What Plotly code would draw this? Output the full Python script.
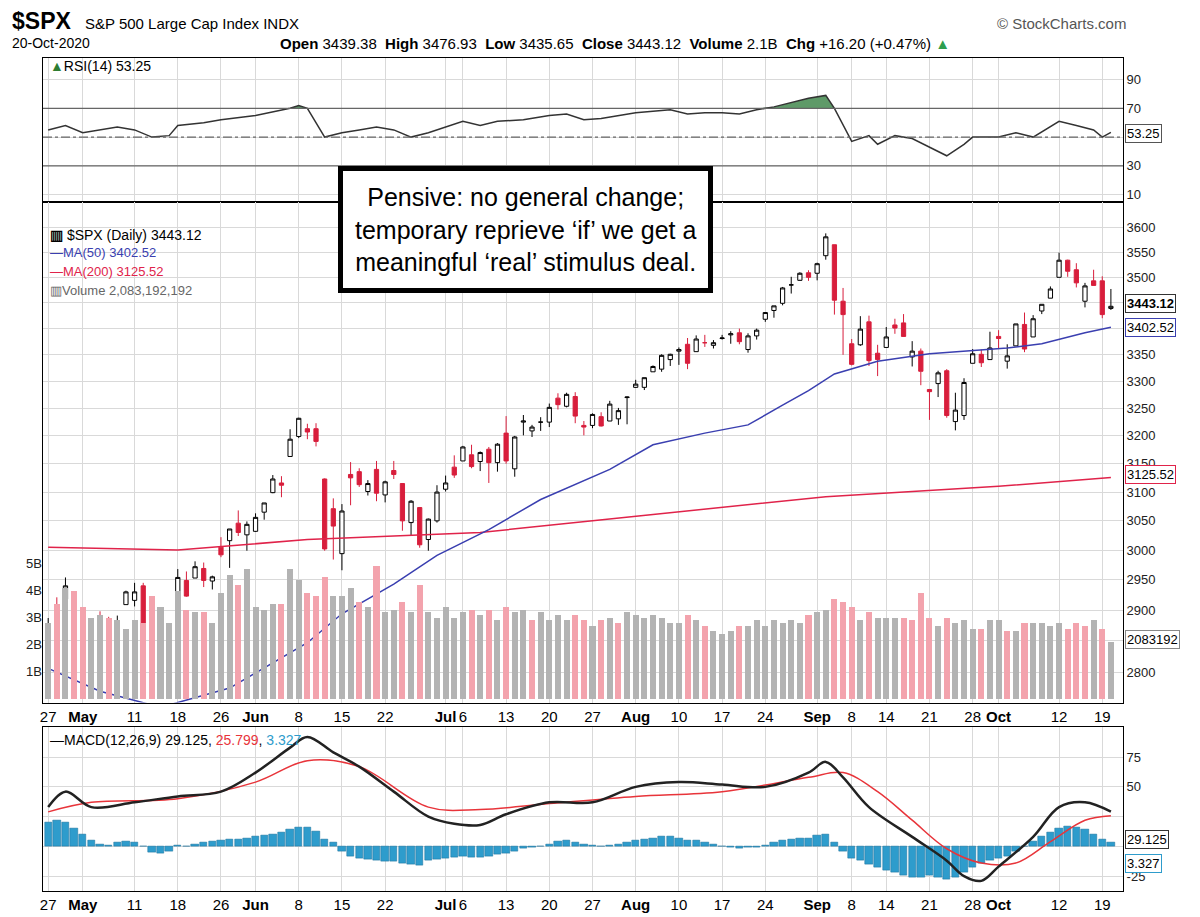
import plotly.graph_objects as go

# trading-day index 0 = 27-Apr-2020 ... 123 = 20-Oct-2020
opens = [2854, 2909, 2918, 2930, 2869, 2815, 2869, 2884, 2879, 2909,
         2916, 2940, 2865, 2794, 2829, 2913, 2949, 2953, 2969, 2948,
         3005, 3016, 3046, 3026, 3032, 3065, 3099, 3116, 3163,
         3199, 3213, 3213, 3123, 3071, 2994, 3131, 3136, 3101, 3140,
         3095, 3138, 3115, 3047, 3073, 3018, 3050, 3105, 3144,
         3155, 3166, 3154, 3176, 3152, 3205, 3141, 3225, 3209, 3225,
         3225, 3269, 3254, 3272, 3219, 3219, 3235, 3227, 3231, 3270,
         3289, 3289, 3318, 3323, 3341, 3357, 3370, 3356, 3373, 3368,
         3381, 3388, 3392, 3360, 3386, 3418, 3435, 3449, 3485, 3494,
         3509, 3508, 3543, 3565, 3453, 3371, 3369, 3413, 3353,
         3364, 3407, 3411, 3346, 3357, 3285, 3296, 3320, 3226, 3237,
         3334, 3351, 3341, 3385, 3338, 3367, 3408, 3384, 3434, 3459,
         3500, 3534, 3515, 3453, 3493, 3493, 3439]
highs = [2887, 2921, 2954, 2930, 2869, 2844, 2898, 2889, 2891, 2932,
         2945, 2945, 2874, 2853, 2865, 2968, 2964, 2981, 2979, 2957,
         3022, 3036, 3068, 3049, 3063, 3081, 3130, 3128, 3212,
         3233, 3222, 3223, 3124, 3089, 3079, 3153, 3142, 3121, 3155,
         3120, 3155, 3115, 3086, 3074, 3054, 3112, 3129, 3165,
         3182, 3184, 3172, 3180, 3187, 3236, 3200, 3238, 3220, 3234,
         3259, 3278, 3279, 3280, 3227, 3241, 3243, 3264, 3251, 3272,
         3303, 3307, 3330, 3351, 3352, 3364, 3382, 3387, 3388, 3378,
         3388, 3395, 3400, 3391, 3400, 3432, 3444, 3481, 3501, 3510,
         3514, 3529, 3588, 3565, 3479, 3380, 3424, 3425, 3369,
         3403, 3419, 3428, 3376, 3362, 3286, 3320, 3323, 3279, 3306,
         3361, 3360, 3394, 3397, 3370, 3409, 3431, 3426, 3447, 3482,
         3549, 3535, 3528, 3489, 3515, 3502, 3477]
lows = [2852, 2860, 2912, 2892, 2821, 2797, 2852, 2845, 2873, 2909,
        2906, 2870, 2793, 2766, 2817, 2913, 2922, 2953, 2938, 2934,
        2988, 2970, 3024, 2999, 3031, 3052, 3098, 3091, 3163,
        3196, 3194, 3181, 2999, 2984, 2966, 3077, 3109, 3094, 3084,
        3082, 3123, 3033, 3025, 3004, 2999, 3047, 3101, 3125,
        3155, 3142, 3137, 3116, 3136, 3150, 3127, 3201, 3198, 3209,
        3216, 3248, 3252, 3223, 3201, 3214, 3217, 3227, 3220, 3221,
        3288, 3284, 3318, 3318, 3329, 3331, 3323, 3356, 3365, 3362,
        3379, 3371, 3370, 3354, 3379, 3413, 3421, 3445, 3468, 3495,
        3493, 3494, 3535, 3427, 3350, 3330, 3367, 3329, 3310,
        3364, 3390, 3385, 3328, 3293, 3229, 3271, 3233, 3210, 3229,
        3334, 3327, 3341, 3361, 3324, 3367, 3355, 3384, 3428, 3459,
        3500, 3501, 3480, 3441, 3484, 3420, 3436]
closes = [2878, 2863, 2940, 2912, 2831, 2843, 2868, 2848, 2881, 2930,
          2930, 2870, 2820, 2853, 2864, 2954, 2923, 2972, 2949, 2955,
          2992, 3036, 3030, 3044, 3056, 3081, 3123, 3112, 3194,
          3232, 3207, 3190, 3002, 3041, 3067, 3125, 3113, 3115, 3098,
          3118, 3131, 3050, 3084, 3009, 3053, 3100, 3116, 3130,
          3180, 3145, 3170, 3152, 3185, 3155, 3198, 3227, 3216, 3225,
          3252, 3257, 3276, 3236, 3216, 3239, 3218, 3258, 3246, 3271,
          3295, 3307, 3328, 3349, 3351, 3360, 3334, 3380, 3373, 3373,
          3382, 3390, 3375, 3386, 3397, 3431, 3444, 3479, 3485, 3508,
          3500, 3527, 3581, 3455, 3427, 3332, 3399, 3339, 3341,
          3384, 3401, 3385, 3357, 3319, 3281, 3316, 3237, 3247, 3298,
          3352, 3335, 3363, 3381, 3348, 3409, 3361, 3419, 3447, 3477,
          3534, 3512, 3489, 3483, 3484, 3427, 3443.12]
volume_b = [2.8, 3.5, 4.1, 4.0, 3.4, 3.0, 3.1, 3.0, 2.9, 2.6,
            2.9, 2.8, 3.8, 3.4, 2.8, 4.0, 3.3, 3.2, 3.2, 2.8,
            3.9, 4.6, 4.2, 4.8, 3.4, 3.3, 3.5, 3.5, 4.8,
            4.4, 3.9, 3.8, 4.5, 3.8, 3.8, 4.1, 3.6, 3.4, 4.9,
            3.2, 3.3, 3.6, 3.2, 4.2, 3.2, 3.0, 3.4, 3.0,
            3.2, 3.3, 3.1, 3.3, 2.9, 3.4, 3.2, 3.3, 2.9, 3.2,
            2.9, 3.1, 2.9, 3.1, 2.9, 2.7, 2.9, 3.0, 2.8, 3.2,
            3.1, 3.0, 3.1, 3.0, 2.8, 2.8, 3.1, 2.9, 2.7, 2.5,
            2.4, 2.5, 2.7, 2.7, 2.9, 2.7, 2.9, 2.8, 2.9, 2.8,
            3.1, 3.2, 3.3, 3.7, 3.6, 3.4, 2.9, 3.2, 3.0,
            3.0, 3.0, 3.0, 2.9, 3.9, 3.0, 2.7, 3.0, 2.8, 2.9,
            2.6, 2.6, 2.9, 2.9, 2.5, 2.5, 2.8, 2.8, 2.8, 2.7,
            2.8, 2.6, 2.8, 2.7, 2.9, 2.6, 2.1]

ma50_x = [0, 6, 13, 21, 30, 34, 40, 45, 51, 57, 65, 70, 76, 81, 85, 88, 91, 96, 102, 106, 111, 115, 120, 123]
ma50_y = [2806, 2770, 2745, 2775, 2847, 2894, 2943, 2991, 3035, 3087, 3140, 3184, 3205, 3220, 3256, 3283, 3314, 3338, 3352, 3357, 3363, 3371, 3392, 3402.52]
ma200_x = [0, 15, 30, 50, 70, 90, 110, 123]
ma200_y = [3005, 3000, 3018, 3030, 3061, 3092, 3110, 3125.52]

rsi_x = [0, 2, 4, 6, 8, 10, 12, 14, 15, 18, 20, 24, 28, 29, 30, 32, 34, 36, 38, 40, 42, 44, 46, 48, 50, 52, 55,
         58, 60, 62, 64, 66, 68, 72, 74, 76, 78, 80, 82, 84, 86, 88, 90, 91, 93, 95, 96, 98, 100, 102, 104, 106,
         107, 110, 112, 114, 116, 117, 119, 121, 122, 123]
rsi_y = [55, 58, 53, 55, 57, 55, 50, 51, 58, 60, 62, 65, 70, 72, 70, 50, 53, 55, 57, 55, 50, 53, 57, 61, 58, 61, 62,
         65, 66, 62, 63, 65, 67, 69, 66, 67, 67, 66, 69, 71, 74, 77, 79, 70, 47, 51, 45, 51, 49, 43, 37, 45,
         50, 50, 53, 50, 57, 61, 58, 55, 50, 53.25]

macd_x = [0, 2, 5, 10, 15, 20, 24, 28, 30, 33, 36, 40, 44, 47, 50, 53, 58, 63, 68, 73, 78, 83, 88, 90, 92, 95,
          100, 104, 106, 108, 110, 114, 117, 120, 123]
macd_y = [33, 46, 33, 37, 42, 46, 62, 83, 92, 79, 67, 46, 25, 19, 18, 27, 37, 37, 50, 54, 52, 50, 62, 71, 58, 33,
          8, -12, -25, -29, -17, 8, 33, 37, 29.125]
signal_x = [0, 5, 15, 24, 30, 36, 44, 50, 58, 68, 78, 88, 92, 96, 100, 104, 108, 112, 116, 120, 123]
signal_y = [29, 37, 40, 54, 72, 67, 33, 31, 36, 42, 46, 58, 62, 46, 22, -2, -14, -14, 4, 22, 25.8]
hist = [20, 22, 20, 15, 10, 5, 2, 1, 3, 4, 3, 0, -5, -6, -4, 1, 0, 2, 3, 4, 5, 6, 6, 7,
        8, 9, 10, 12, 14, 16, 16, 13, 6, 3, -4, -8, -10, -11, -12, -13, -13, -14, -15, -16,
        -12, -11, -10, -9, -8, -9, -9, -8, -7, -6, -4, -2, -1, 0, 2, 4, 5, 3, 2, 1, 0, 1, 2, 3,
        5, 6, 7, 8, 8, 7, 5, 5, 3, 2, 0, -1, -2, -1, -1, 1, 3, 5, 6, 7, 7, 9, 10, 3, -4,
        -10, -12, -15, -18, -20, -22, -24, -26, -26, -24, -26, -28, -26, -22, -18, -14, -12, -10, -8,
        -4, 0, 4, 8, 12, 15, 17, 16, 14, 10, 6, 3.327]

tick_idx = [0, 4, 10, 15, 20, 24, 29, 34, 39, 46, 48, 53, 58, 63, 68, 73, 78, 83, 89, 93, 97, 102, 107, 110, 117, 122]
tick_txt = ["27", "<b>May</b>", "11", "18", "26", "<b>Jun</b>", "8", "15", "22", "<b>Jul</b>", "6", "13", "20", "27",
            "<b>Aug</b>", "10", "17", "24", "<b>Sep</b>", "8", "14", "21", "28", "<b>Oct</b>", "12", "19"]

days = list(range(len(closes)))
FONT = "Liberation Sans, Arial, sans-serif"
W, H, L, R, T, B = 1200, 917, 35, 85, 50, 27


def px(x):
    return (x - L) / (W - L - R)


def py(y):
    return (H - B - y) / (H - T - B)


vol_col = ["#f3a3ad" if (i > 0 and closes[i] < closes[i - 1]) else "#b3b3b3" for i in days]

fig = go.Figure()

# RSI panel
fig.add_trace(go.Scatter(x=rsi_x, y=[70] * len(rsi_x), mode="lines", line=dict(width=0),
                         xaxis="x", yaxis="y", hoverinfo="skip"))
fig.add_trace(go.Scatter(x=rsi_x, y=[max(v, 70) for v in rsi_y], mode="lines", line=dict(width=0),
                         fill="tonexty", fillcolor="#5e9a68", xaxis="x", yaxis="y", hoverinfo="skip"))
fig.add_trace(go.Scatter(x=rsi_x, y=rsi_y, mode="lines", line=dict(color="#333", width=1.5),
                         xaxis="x", yaxis="y"))

# volume behind price
fig.add_trace(go.Bar(x=days, y=volume_b, marker_color=vol_col, marker_line_width=0, width=0.7,
                     xaxis="x2", yaxis="y3"))
fig.add_trace(go.Scatter(x=ma200_x, y=ma200_y, mode="lines", line=dict(color="#e0234a", width=1.5),
                         xaxis="x2", yaxis="y2"))
fig.add_trace(go.Scatter(x=ma50_x, y=ma50_y, mode="lines", line=dict(color="#3a3fb0", width=1.5),
                         xaxis="x2", yaxis="y2"))
fig.add_trace(go.Candlestick(x=days, open=opens, high=highs, low=lows, close=closes,
                             increasing=dict(fillcolor="white", line=dict(color="black", width=1)),
                             decreasing=dict(fillcolor="#d81e3c", line=dict(color="#d81e3c", width=1)),
                             whiskerwidth=0, xaxis="x2", yaxis="y2"))

# MACD panel
fig.add_trace(go.Bar(x=days, y=hist, marker_color="#2e9ccc", marker_line_color="#1b6f99",
                     marker_line_width=0.5, width=0.85, xaxis="x3", yaxis="y4"))
fig.add_trace(go.Scatter(x=signal_x, y=signal_y, mode="lines", line=dict(color="#e8343a", width=1.5),
                         line_shape="spline", xaxis="x3", yaxis="y4"))
fig.add_trace(go.Scatter(x=macd_x, y=macd_y, mode="lines", line=dict(color="#222", width=2.5),
                         line_shape="spline", xaxis="x3", yaxis="y4"))

xr = [-0.6, 124.4]
xcommon = dict(range=xr, showline=True, linecolor="black", mirror=True, gridcolor="#d9d9d9",
               tickvals=tick_idx, ticktext=tick_txt, ticks="", zeroline=False,
               tickfont=dict(family=FONT, size=15, color="black"))
ycommon = dict(showline=True, linecolor="black", mirror=True, gridcolor="#d9d9d9", side="right",
               ticks="", zeroline=False, tickfont=dict(family=FONT, size=13, color="#222"))

price_ticks = list(range(2800, 3601, 50))
fig.update_layout(
    width=W, height=H, margin=dict(l=L, r=R, t=T, b=B), showlegend=False,
    paper_bgcolor="white", plot_bgcolor="white", bargap=0,
    xaxis=dict(xcommon, domain=[0, 1], anchor="y", showticklabels=False),
    yaxis=dict(ycommon, domain=[py(195), 1], range=[5, 105], tickvals=[10, 30, 50, 70, 90],
               ticktext=["10", "30", "", "70", "90"]),
    xaxis2=dict(xcommon, domain=[0, 1], anchor="y2", rangeslider=dict(visible=False)),
    yaxis2=dict(ycommon, domain=[py(700), py(195)], type="log", range=[3.4397, 3.5626],
                tickvals=price_ticks, ticktext=[str(v) for v in price_ticks]),
    yaxis3=dict(overlaying="y2", side="left", range=[-0.15, 18.4], showgrid=False, zeroline=False,
                tickvals=[1, 2, 3, 4, 5], ticktext=["1B", "2B", "3B", "4B", "5B"], ticks="",
                tickfont=dict(family=FONT, size=13, color="#222")),
    xaxis3=dict(xcommon, domain=[0, 1], anchor="y4"),
    yaxis4=dict(ycommon, domain=[0, py(725)], range=[-37.5, 100], tickvals=[-25, 0, 25, 50, 75],
                ticktext=["-25", "", "", "50", "75"]),
)

# reference lines in RSI panel
for lvl, dash in [(70, "solid"), (30, "solid"), (50, "dashdot")]:
    fig.add_shape(type="line", xref="x", yref="y", x0=xr[0], x1=xr[1], y0=lvl, y1=lvl,
                  line=dict(color="#666", width=1.3, dash=dash))

ann = []


def text(x, y, s, size=14, color="black", xanchor="left", **kw):
    ann.append(dict(x=px(x), y=py(y), xref="paper", yref="paper", text=s, showarrow=False,
                    xanchor=xanchor, yanchor="middle", font=dict(family=FONT, size=size, color=color), **kw))


text(2, 13, "<b>$SPX</b>", size=23)
text(75, 15, "S&P 500 Large Cap Index INDX", size=15)
text(2, 35, "20-Oct-2020", size=14)
text(270, 35, "<b>Open</b> 3439.38  <b>High</b> 3476.93  <b>Low</b> 3435.65  <b>Close</b> 3443.12  "
     "<b>Volume</b> 2.1B  <b>Chg</b> +16.20 (+0.47%) <span style='color:#2e9e4e'>▲</span>", size=15)
text(1120, 15, "© StockCharts.com", size=15, color="#555", xanchor="right")
text(40, 58, "<span style='color:#2e7d32'>▲</span>RSI(14) 53.25", size=14)
text(40, 228, "<b>▥</b> $SPX (Daily) 3443.12", size=14)
text(40, 246, "<span style='color:#3a3fb0'>—MA(50) 3402.52</span>", size=13)
text(40, 265, "<span style='color:#e0234a'>—MA(200) 3125.52</span>", size=13)
text(40, 284, "<span style='color:#666'>▥Volume 2,083,192,192</span>", size=13)
text(40, 738, "—MACD(12,26,9) 29.125, <span style='color:#e8343a'>25.799</span>, "
     "<span style='color:#2e9ccc'>3.327</span>", size=14)

for y, s, bc, bold in [(126, "53.25", "#555", False), (298, "3443.12", "#333", True),
                       (322, "3402.52", "#3a3fb0", False), (470, "3125.52", "#e0234a", False),
                       (636, "2083192", "#888", False), (838, "29.125", "#333", False),
                       (862, "3.327", "#2e9ccc", False)]:
    text(1117, y, "<b>%s</b>" % s if bold else s, size=13, bordercolor=bc, borderwidth=1,
         borderpad=1, bgcolor="white")

ann.append(dict(x=px(517), y=py(223), xref="paper", yref="paper", showarrow=False,
                xanchor="center", yanchor="middle",
                text="Pensive: no general change;<br>temporary reprieve ‘if’ we get a<br>"
                     "meaningful ‘real’ stimulus deal.",
                font=dict(family=FONT, size=25, color="black"), align="center",
                bgcolor="white", bordercolor="black", borderwidth=5, borderpad=12))
fig.update_layout(annotations=ann)

fig.write_html("out.html")
